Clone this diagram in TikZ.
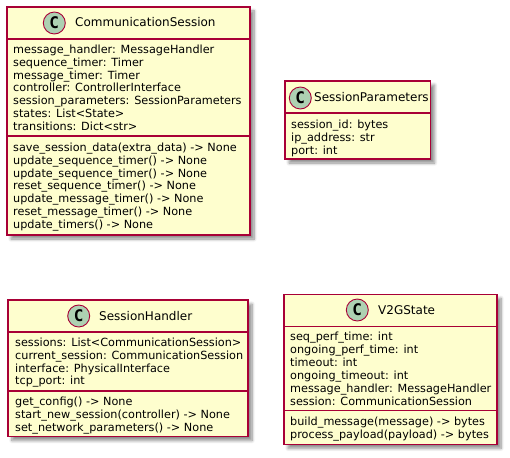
\documentclass[tikz,border=0pt]{standalone}
\usepackage{fontspec}
\setmainfont{DejaVu Sans}
\newfontfamily\spotfont{DejaVu Sans Mono}
\usepackage{tikz, xcolor}
\usetikzlibrary{shadows.blur}

\definecolor{classfill}{HTML}{FEFECE}
\definecolor{classedge}{HTML}{A80036}
\definecolor{spotfill}{HTML}{ADD1B2}

\tikzset{
  classbox/.style={draw=classedge, fill=classfill, line width=1.2pt, inner sep=0pt,
    blur shadow={shadow xshift=4pt, shadow yshift=-4pt, shadow blur steps=8, shadow blur radius=3pt, shadow opacity=45}},
  classline/.style={draw=classedge, line width=1.2pt},
  spot/.style={circle, draw=classedge, fill=spotfill, line width=.9pt, minimum size=22pt, inner sep=0pt,
    font=\spotfont\bfseries\fontsize{16}{16}\selectfont},
  title/.style={anchor=base west, inner sep=0pt, font=\fontsize{12}{14}\selectfont},
  members/.style={anchor=north west, inner sep=0pt, align=left, font=\fontsize{11.25}{12.9}\selectfont}
}

\begin{document}
\begin{tikzpicture}[x=1pt, y=-1pt]
  \useasboundingbox (0, 0) rectangle (510, 457);

  % communication session
  \node (commbox) [classbox, minimum width=243pt, minimum height=228pt] at (128.5, 121) {};
  \draw [classline] (commbox.west |- 0, 39) to (commbox.east |- 0, 39);
  \draw [classline] (commbox.west |- 0, 136) to (commbox.east |- 0, 136);
  \node (commspot) [spot] at (54.3, 23) {C};
  \node (commtitle) [title] at (75, 27) {CommunicationSession};
  \node (commattrs) [members] at (13, 44.5) {message\_handler: MessageHandler\\
    sequence\_timer: Timer\\
    message\_timer: Timer\\
    controller: ControllerInterface\\
    session\_parameters: SessionParameters\\
    states: List<State>\\
    transitions: Dict<str>};
  \node (commmethods) [members] at (13, 142.5) {save\_session\_data(extra\_data) -> None\\
    update\_sequence\_timer() -> None\\
    update\_sequence\_timer() -> None\\
    reset\_sequence\_timer() -> None\\
    update\_message\_timer() -> None\\
    reset\_message\_timer() -> None\\
    update\_timers() -> None};

  % session parameters
  \node (parambox) [classbox, minimum width=145.5pt, minimum height=78pt] at (357.8, 120) {};
  \draw [classline] (parambox.west |- 0, 113) to (parambox.east |- 0, 113);
  \node (paramspot) [spot] at (300.3, 98) {C};
  \node (paramtitle) [title] at (314, 102) {SessionParameters};
  \node (paramattrs) [members] at (291, 119.5) {session\_id: bytes\\
    ip\_address: str\\
    port: int};

  % session handler
  \node (handlerbox) [classbox, minimum width=240pt, minimum height=136.5pt] at (128, 368.3) {};
  \draw [classline] (handlerbox.west |- 0, 332) to (handlerbox.east |- 0, 332);
  \draw [classline] (handlerbox.west |- 0, 391) to (handlerbox.east |- 0, 391);
  \node (handlerspot) [spot] at (78.7, 316) {C};
  \node (handlertitle) [title] at (99, 320) {SessionHandler};
  \node (handlerattrs) [members] at (15, 337.5) {sessions: List<CommunicationSession>\\
    current\_session: CommunicationSession\\
    interface: PhysicalInterface\\
    tcp\_port: int};
  \node (handlermethods) [members] at (15, 396.5) {get\_config() -> None\\
    start\_new\_session(controller) -> None\\
    set\_network\_parameters() -> None};

  % v2g state
  \node (statebox) [classbox, minimum width=213pt, minimum height=150pt] at (390.5, 369.3) {};
  \draw [classline] (statebox.west |- 0, 326.5) to (statebox.east |- 0, 326.5);
  \draw [classline] (statebox.west |- 0, 410.5) to (statebox.east |- 0, 410.5);
  \node (statespot) [spot] at (357.3, 310) {C};
  \node (statetitle) [title] at (378, 314) {V2GState};
  \node (stateattrs) [members] at (290, 332) {seq\_perf\_time: int\\
    ongoing\_perf\_time: int\\
    timeout: int\\
    ongoing\_timeout: int\\
    message\_handler: MessageHandler\\
    session: CommunicationSession};
  \node (statemethods) [members] at (290, 417) {build\_message(message) -> bytes\\
    process\_payload(payload) -> bytes};

\end{tikzpicture}
\end{document}
